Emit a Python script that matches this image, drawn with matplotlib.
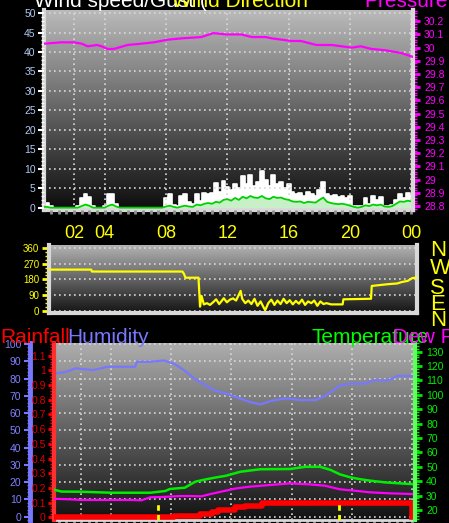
import numpy as np
import matplotlib

matplotlib.use("Agg")
import matplotlib.pyplot as plt
from matplotlib.ticker import MultipleLocator, FixedLocator, FuncFormatter

W, H = 449, 523

# ---- top panel: wind speed / gust (mph) and pressure (inHg) ----
wind_hours = np.arange(0, 24.01, 0.25)
gust = [1.2, 1.2, 0.3, 0, 0, 0, 0, 0, 0, 0.3, 2.5, 3.6, 2.8, 0.3, 0, 0,
        0.5, 3.5, 3.6, 1.0, 0, 0, 0, 0, 0, 0, 0, 0, 0, 0, 0, 0,
        2.5, 3.4, 0.8, 0.3, 3.0, 3.6, 1.5, 1.0, 3.4, 1.8, 3.8, 3.5, 3.8, 6.3, 4.0, 6.8,
        5.2, 4.5, 6.0, 5.0, 8.2, 6.0, 8.5, 5.5, 6.5, 9.3, 7.0, 5.5, 8.5, 6.0, 6.5, 5.0,
        6.0, 4.0, 3.5, 3.8, 3.0, 4.0, 3.5, 3.0, 4.5, 6.5, 3.5, 3.0, 3.2, 2.8, 3.0, 2.5,
        3.0, 0.5, 0.3, 0.5, 2.5, 1.0, 3.0, 2.0, 2.8, 0.5, 0.3, 0.8, 2.0, 3.5, 2.5, 3.8,
        3.0]
avg = [0.2, 0.2, 0, 0, 0, 0, 0, 0, 0, 0, 0.4, 0.8, 0.5, 0, 0, 0,
       0, 0.5, 0.8, 0.3, 0, 0, 0, 0, 0, 0, 0, 0, 0, 0, 0, 0,
       0.3, 0.5, 0.2, 0, 0.3, 0.5, 0.3, 0.2, 0.8, 0.6, 1.0, 1.2, 1.0, 1.5, 1.3, 2.0,
       2.2, 1.8, 2.5, 2.0, 2.8, 2.4, 3.0, 2.6, 2.5, 3.0, 2.4, 2.2, 2.8, 2.5, 2.6, 2.2,
       2.0, 1.6, 1.5, 1.6, 1.2, 1.5, 1.4, 1.3, 2.0, 2.6, 1.5, 1.2, 1.0, 0.9, 1.0, 0.8,
       0.5, 0.2, 0, 0.2, 0.6, 0.4, 0.8, 0.6, 0.8, 0.3, 0.2, 0.4, 1.0, 1.6, 1.5, 1.8,
       1.6]

press_hours = [0.07, 1.17, 2.0, 2.5, 2.9, 3.5, 3.8, 4.2, 4.6, 5.5, 6.4, 7.2, 8.1, 9.0,
               10.3, 11.1, 11.9, 12.9, 13.6, 14.5, 14.9, 16.2, 16.8, 17.8, 18.8, 20.1,
               20.7, 21.4, 22.3, 23.3, 24.1]
pressure = [30.03, 30.04, 30.04, 30.03, 30.01, 30.02, 30.01, 29.99, 29.99, 30.02, 30.03,
            30.04, 30.06, 30.07, 30.08, 30.11, 30.10, 30.10, 30.08, 30.08, 30.07, 30.05,
            30.05, 30.02, 30.02, 30.00, 30.01, 29.99, 29.98, 29.96, 29.93]

hour_ticks = [2, 4, 8, 12, 16, 20, 24]
hour_labels = ["02", "04", "08", "12", "16", "20", "00"]

# ---- middle panel: wind direction (deg) ----
dir_hours = [0, 2.75, 2.8, 8.7, 8.8, 8.9, 9.75, 9.85, 9.95, 10.1, 10.3, 10.5, 10.7, 10.9,
             11.1, 11.4, 11.6, 11.8, 12.0, 12.2, 12.5, 12.6, 12.8, 13.0, 13.2, 13.4, 13.6,
             13.8, 14.0, 14.1, 14.3, 14.5, 14.7, 14.9, 15.1, 15.3, 15.5, 15.7, 15.9, 16.1,
             16.3, 16.5, 16.7, 16.9, 17.1, 17.3, 17.5, 17.7, 17.9, 18.1, 18.4, 19.15, 19.2,
             21.0, 21.05, 22.1, 22.7, 23.0, 23.4, 23.7, 24.0]
direction = [236, 236, 225, 225, 212, 190, 190, 25, 86, 38, 45, 35, 50, 67,
             40, 73, 50, 65, 72, 60, 115, 70, 45, 60, 40, 70, 30,
             55, 20, 5, 45, 65, 35, 60, 40, 70, 45, 62, 38, 58,
             42, 65, 35, 55, 45, 60, 30, 55, 40, 45, 38, 38, 67,
             70, 143, 153, 157, 165, 172, 188, 190]

# ---- bottom panel: rainfall (in), humidity (%), temperature / dew point (F) ----
hum_hours = [0.2, 0.9, 1.2, 1.65, 2.8, 3.75, 4.0, 5.6, 5.7, 6.6, 7.5, 8.2, 8.9, 9.6,
             10.3, 10.9, 11.6, 12.2, 13.2, 13.9, 14.6, 15.6, 16.6, 17.6, 18.2, 18.6,
             19.2, 19.9, 20.8, 21.5, 22.5, 23.0, 24.0]
humidity = [83.0, 83.6, 84.5, 85.9, 84.9, 86.8, 86.8, 86.8, 89.7, 89.7, 90.5, 88.5, 84.5,
            79.5, 76.0, 73.0, 71.5, 69.5, 66.5, 65.0, 67.0, 68.5, 67.5, 67.5, 70.0, 72.0,
            76.0, 77.0, 77.0, 79.0, 79.0, 81.5, 81.5]

temp_hours = [0.2, 0.7, 2.0, 4.0, 6.6, 7.6, 7.9, 8.9, 9.6, 10.3, 11.0, 11.6, 12.6, 13.9,
              15.9, 16.9, 17.9, 18.6, 19.2, 19.9, 20.5, 21.2, 22.2, 23.2, 24.0]
temperature = [34.1, 32.8, 32.7, 32.0, 32.0, 33.2, 34.6, 35.5, 39.7, 41.3, 42.7, 43.7, 46.6,
               48.3, 48.5, 50.0, 50.0, 47.8, 44.8, 42.7, 41.5, 40.4, 39.2, 38.5, 38.0]

dew_hours = [0.2, 1.3, 2.0, 5.3, 6.0, 6.6, 7.3, 8.6, 9.3, 10.0, 10.6, 11.6, 12.3, 13.2,
             14.6, 15.9, 17.2, 18.2, 19.2, 20.2, 21.2, 22.5, 24.0]
dew_point = [27.8, 27.4, 27.0, 27.0, 26.7, 28.8, 29.0, 29.7, 29.7, 29.5, 31.1, 33.4, 35.0,
             36.2, 37.4, 38.5, 37.8, 36.9, 34.4, 33.4, 32.3, 31.6, 31.1]

rain_hours = [0.2, 8.15, 9.93, 10.73, 11.13, 12.25, 12.9, 14.04, 23.84, 23.97]
rainfall = [0.0, 0.011, 0.025, 0.038, 0.05, 0.068, 0.08, 0.1, 0.1, 0.0]

sun_times = [7.09, 19.14]


def px_axes(fig, x0, y0, x1, y1):
    return fig.add_axes([x0 / W, 1 - y1 / H, (x1 - x0) / W, (y1 - y0) / H])


def shade(ax, top, bottom):
    g = np.linspace(bottom, top, 256).reshape(-1, 1)
    ax.imshow(g, cmap="gray", vmin=0, vmax=1, aspect="auto", origin="lower",
              extent=[0, 1, 0, 1], transform=ax.transAxes, zorder=0)


def fmt_g(v, _pos):
    return f"{round(v, 2):g}"


plt.rcParams["font.family"] = ["Liberation Sans", "DejaVu Sans"]
DOT = (0, (1, 2))
GRID = "#d8d8d8"
EDGE = "#d8d8d8"

fig = plt.figure(figsize=(W / 100, H / 100), dpi=100, facecolor="black")

# header texts of the top panel, cut off by the figure edge
fig.text(34 / W, 1 - 7 / H, "Wind speed/Gust (", color="white", fontsize=15,
         va="baseline")
fig.text(172 / W, 1 - 7 / H, "Wind Direction", color="yellow", fontsize=15,
         va="baseline")
fig.text(364 / W, 1 - 7 / H, "Pressure", color="magenta", fontsize=15,
         va="baseline")

# ── top panel
ax1 = px_axes(fig, 44, 10, 413, 210)
shade(ax1, 0.73, 0.05)
ax1.fill_between(wind_hours, 0, gust, step="mid", color="white", lw=0, zorder=2)
ax1.step(wind_hours, gust, where="mid", color="white", lw=1.2, zorder=2)
ax1.fill_between(wind_hours, 0, avg, color="#c8f0c8", lw=0, zorder=3)
ax1.plot(wind_hours, avg, color="#00d000", lw=1.3, zorder=4)
ax1.set_xlim(0.05, 24.1)
ax1.set_ylim(-0.6, 50.8)
ax1.set_xticks(hour_ticks)
ax1.set_xticklabels(hour_labels)
ax1.xaxis.set_minor_locator(MultipleLocator(0.5))
ax1.yaxis.set_major_locator(MultipleLocator(5))
ax1.yaxis.set_minor_locator(MultipleLocator(1))
ax1.tick_params(axis="x", which="both", colors="#909090", length=3, width=2,
                labelcolor="yellow", labelsize=13, pad=8)
ax1.tick_params(axis="y", which="major", colors="white", length=4, width=1.5,
                labelcolor="#b0c8f0", labelsize=7.5, pad=2)
ax1.tick_params(axis="y", which="minor", colors="white", length=2, width=1)
ax1.grid(True, color=GRID, ls=DOT, lw=1.2, zorder=1)
ax1.set_axisbelow(False)
for s in ("left", "bottom", "right"):
    ax1.spines[s].set_color(EDGE)
    ax1.spines[s].set_linewidth(3)
ax1.spines["top"].set_visible(False)

ax1p = ax1.twinx()
ax1p.plot(press_hours, pressure, color="magenta", lw=1.6, zorder=5)
ax1p.set_ylim(28.77, 30.285)
ax1p.yaxis.set_major_locator(MultipleLocator(0.1))
ax1p.yaxis.set_minor_locator(MultipleLocator(0.02))
ax1p.yaxis.set_major_formatter(FuncFormatter(fmt_g))
ax1p.tick_params(axis="y", which="major", colors="magenta", length=5, width=2,
                 labelsize=7.5, pad=3)
ax1p.tick_params(axis="y", which="minor", colors="magenta", length=3, width=1)
for s in ("left", "top", "bottom"):
    ax1p.spines[s].set_visible(False)
ax1p.spines["right"].set_color(EDGE)
ax1p.spines["right"].set_linewidth(3)

# ── middle panel
ax2 = px_axes(fig, 49, 245, 417, 313)
shade(ax2, 0.70, 0.08)
ax2.plot(dir_hours, direction, color="yellow", lw=1.6, zorder=3)
ax2.set_xlim(0, 24)
ax2.set_ylim(-11, 376)
ax2.set_xticks([])
ax2.yaxis.set_major_locator(FixedLocator([0, 90, 180, 270, 360]))
ax2.yaxis.set_minor_locator(MultipleLocator(22.5))
ax2.tick_params(axis="y", which="major", colors="yellow", length=5, width=2,
                labelsize=7, pad=2)
ax2.tick_params(axis="y", which="minor", colors="yellow", length=3, width=1)
ax2.grid(True, axis="y", color=GRID, ls=DOT, lw=1.2, zorder=1)
for s in ("left", "bottom", "right"):
    ax2.spines[s].set_color(EDGE)
    ax2.spines[s].set_linewidth(3)
ax2.spines["top"].set_visible(False)

for letter, yp in zip("NWSEN", [251, 269, 288, 305, 320]):
    fig.text(430 / W, 1 - yp / H, letter, color="yellow", fontsize=16,
             va="center", ha="left")

# ── bottom panel
for label, xp, col in [("Rainfall", 0, "red"), ("Humidity", 67, "#7878ff"),
                       ("Temperature", 312, "#00ff00"), ("Dew Point", 393, "magenta")]:
    fig.text(xp / W, 1 - 343 / H, label, color=col, fontsize=15, va="baseline")

ax3 = px_axes(fig, 54, 343, 415, 520)
shade(ax3, 0.68, 0.07)
ax3.plot(hum_hours, humidity, color="#7878ff", lw=1.6, zorder=3)
ax3.set_xlim(0.2, 24.2)
ax3.set_ylim(-2.0, 100.6)
ax3.set_xticks(hour_ticks)
ax3.set_xticklabels([])
ax3.xaxis.set_minor_locator(MultipleLocator(0.5))
ax3.tick_params(axis="x", which="both", colors="#909090", length=3, width=2)
ax3.yaxis.set_major_locator(MultipleLocator(10))
ax3.yaxis.set_minor_locator(MultipleLocator(2))
ax3.tick_params(axis="y", which="major", colors="#7878ff", length=4, width=1.5,
                labelcolor="#8080ff", labelsize=7.5, pad=2)
ax3.tick_params(axis="y", which="minor", colors="#7878ff", length=2, width=1)
ax3.grid(True, color=GRID, ls=DOT, lw=1.2, zorder=1)
ax3.spines["left"].set_position(("outward", 17.5))
ax3.spines["left"].set_color("#7878ff")
ax3.spines["left"].set_linewidth(3.5)
ax3.spines["bottom"].set_color(EDGE)
ax3.spines["bottom"].set_linewidth(2)
ax3.spines["top"].set_visible(False)
ax3.spines["right"].set_visible(False)

ax3r = ax3.twinx()
ax3r.yaxis.tick_left()
ax3r.step(rain_hours, rainfall, where="post", color="red", lw=4, zorder=4)
for t in sun_times:
    ax3r.plot([t, t], [-0.02, 0.097], color="yellow", lw=2, ls=(0, (2, 1.5)),
              zorder=5)
ax3r.set_ylim(-0.018, 1.186)
ax3r.yaxis.set_major_locator(MultipleLocator(0.1))
ax3r.yaxis.set_minor_locator(MultipleLocator(0.02))
ax3r.yaxis.set_major_formatter(FuncFormatter(fmt_g))
ax3r.tick_params(axis="y", which="major", colors="red", length=4, width=2,
                 labelcolor="#dd0000", labelsize=7.5, pad=2)
ax3r.tick_params(axis="y", which="minor", colors="red", length=3, width=1)
ax3r.spines["left"].set_visible(True)
ax3r.spines["left"].set_color("#ff3030")
ax3r.spines["left"].set_linewidth(3)
for s in ("right", "top", "bottom"):
    ax3r.spines[s].set_visible(False)

ax3t = ax3.twinx()
ax3t.plot(temp_hours, temperature, color="#00ee00", lw=1.8, zorder=4)
ax3t.plot(dew_hours, dew_point, color="magenta", lw=1.6, zorder=4)
ax3t.set_ylim(13.06, 136.0)
ax3t.yaxis.set_major_locator(MultipleLocator(10))
ax3t.yaxis.set_minor_locator(MultipleLocator(2))
ax3t.tick_params(axis="y", which="major", colors="#00ee00", length=5, width=2,
                 labelsize=7.5, pad=3)
ax3t.tick_params(axis="y", which="minor", colors="#00ee00", length=3, width=1)
ax3t.spines["right"].set_color("#60ff60")
ax3t.spines["right"].set_linewidth(3)
for s in ("left", "top", "bottom"):
    ax3t.spines[s].set_visible(False)

fig.savefig("out.png", dpi=100, facecolor="black")
